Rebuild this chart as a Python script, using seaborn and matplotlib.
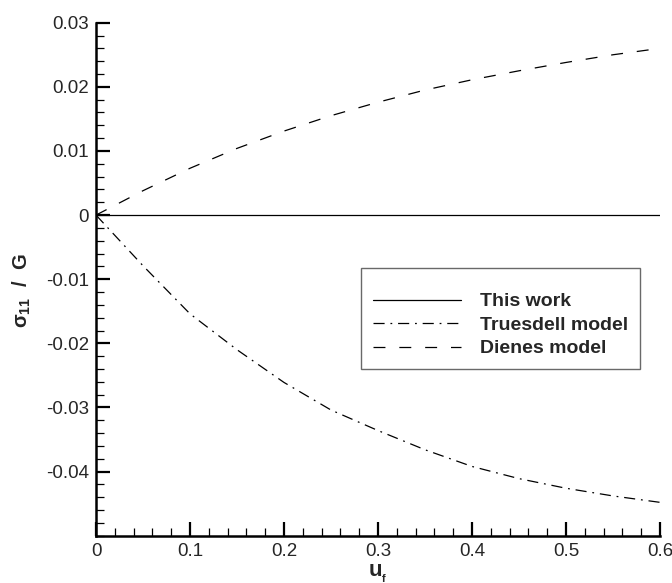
import numpy as np
import pandas as pd
import matplotlib
matplotlib.use("Agg")
import matplotlib.pyplot as plt
from matplotlib.ticker import MultipleLocator, FixedLocator, FuncFormatter
import seaborn as sns

# ---- data ----
u_f = [0.0, 0.05, 0.1, 0.15, 0.2, 0.25, 0.3, 0.35, 0.4, 0.45, 0.5, 0.55, 0.6]
this_work = [0.0] * 13
truesdell = [0.0, -0.0079, -0.0154, -0.0210, -0.0261, -0.0304, -0.0336,
             -0.0366, -0.0392, -0.0411, -0.0426, -0.0438, -0.0448]
dienes = [0.0, 0.0038, 0.0073, 0.0104, 0.0131, 0.0155, 0.0176,
          0.0195, 0.0211, 0.0225, 0.0238, 0.0250, 0.0260]
models = ["This work", "Truesdell model", "Dienes model"]
x_major = [0.0, 0.1, 0.2, 0.3, 0.4, 0.5, 0.6]
y_major = [-0.04, -0.03, -0.02, -0.01, 0.0, 0.01, 0.02, 0.03]

df = pd.DataFrame({
    "u": u_f * 3,
    "val": this_work + truesdell + dienes,
    "model": [models[0]] * 13 + [models[1]] * 13 + [models[2]] * 13,
})

sns.set_style("ticks")
plt.rcParams.update({
    "font.family": ["Liberation Sans", "DejaVu Sans"],
    "mathtext.fontset": "custom",
    "mathtext.rm": "Liberation Sans",
    "mathtext.it": "Liberation Sans:italic",
    "mathtext.bf": "Liberation Sans:bold",
    "axes.unicode_minus": False,
    "lines.scale_dashes": False,
    "axes.linewidth": 1.8,
    "axes.edgecolor": "black",
})

fig = plt.figure(figsize=(6.72, 5.83), dpi=100)
ax = fig.add_axes([96 / 672, 1 - 535.7 / 583, (660 - 96) / 672, (535.7 - 22.7) / 583])

dashes = {
    "This work": "",
    "Truesdell model": (8, 4.2, 1.3, 4.2),
    "Dienes model": (8.6, 10),
}
sns.lineplot(data=df, x="u", y="val", style="model", style_order=models,
             dashes=dashes, color="black", linewidth=0.9, ax=ax,
             estimator=None, sort=False)

ax.set_xlim(0, 0.6)
ax.set_ylim(-0.05, 0.03)
ax.xaxis.set_major_locator(FixedLocator(x_major))
ax.yaxis.set_major_locator(FixedLocator(y_major))
ax.xaxis.set_minor_locator(MultipleLocator(0.02))
ax.yaxis.set_minor_locator(MultipleLocator(0.002))
fmt = FuncFormatter(lambda v, p: f"{v:g}" if abs(v) > 1e-12 else "0")
ax.xaxis.set_major_formatter(fmt)
ax.yaxis.set_major_formatter(fmt)

ax.tick_params(which="major", direction="in", length=10, width=1.6,
               labelsize=13.5, pad=5, color="black")
ax.tick_params(which="minor", direction="in", length=5.5, width=0.9, color="black")
for s in ["top", "right"]:
    ax.spines[s].set_visible(False)

ax.set_xlabel(r"$\mathbf{u}_{{}_{\mathbf{f}}}$", fontsize=16, labelpad=2)
ax.set_ylabel(r"$\mathregular{\sigma_{11}}$  /  G", fontsize=14.5,
              fontweight="bold")
ax.yaxis.set_label_coords(-0.112, 0.477)

handles, labels = ax.get_legend_handles_labels()
leg = ax.legend(handles, labels, loc="upper left",
                bbox_to_anchor=(361 / 672, 1 - 268 / 583),
                bbox_transform=fig.transFigure, borderaxespad=0,
                frameon=True, fancybox=False, edgecolor="#444444",
                prop={"weight": "bold", "size": 14},
                title=" ", title_fontsize=5,
                handlelength=4.5, handletextpad=1.0, borderpad=0.62,
                labelspacing=0.3)
leg.get_frame().set_linewidth(1.0)

fig.savefig("out.png", dpi=100)
